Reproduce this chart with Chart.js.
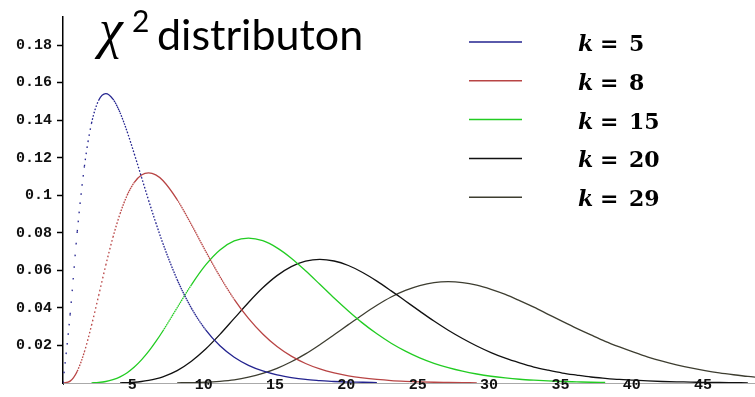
<!DOCTYPE html>
<html>
<head>
<meta charset="utf-8">
<script src="https://cdn.jsdelivr.net/npm/chart.js@4/dist/chart.umd.min.js"></script>
<style>
  html, body { margin: 0; padding: 0; background: #fff; }
</style>
</head>
<body>
<canvas id="grafica" width="755" height="397"></canvas>
<script>
var colorEjeY = "#000";
var colorEjeX = "#aaa";

// valores de x (grados de libertad k en cada serie)
var xs = [0, 0.5, 1, 1.5, 2, 2.5, 3, 3.5, 4, 4.5, 5, 5.5, 6, 6.5, 7,
  8, 9, 10, 11, 12, 13, 14, 15, 16, 17, 18, 19, 20, 21, 22, 23, 24, 25, 26, 27, 28,
  29, 30, 31, 32, 33, 34, 35, 36, 37, 38, 39, 40, 41, 42, 43, 44, 45, 46, 47, 48, 49];

var ks = [5, 8, 15, 20, 29];
var colores = ["#23238f", "#b84444", "#22cc22", "#111111", "#3d3d30"];

var k5 = [0, 0.0366, 0.0807, 0.1154, 0.1384, 0.1506, 0.1542, 0.1513, 0.1440, 0.1338, 0.1220, 0.1097, 0.0973, 0.0855, 0.0744,
  0.0551, 0.0399, 0.0283, 0.0198, 0.0137, 0.0094, 0.0064, 0.0043, 0.0029, 0.0019, 0.0013, 0.0008, 0.0005, 0.0004, 0.0002];

var k8 = [0, 0.0010, 0.0063, 0.0166, 0.0307, 0.0466, 0.0628, 0.0776, 0.0902, 0.1001, 0.1069, 0.1108, 0.1120, 0.1109, 0.1079,
  0.0977, 0.0844, 0.0702, 0.0567, 0.0446, 0.0344, 0.0261, 0.0194, 0.0143, 0.0104, 0.0075, 0.0054, 0.0038, 0.0027, 0.0019,
  0.0013, 0.0009, 0.0006, 0.0004, 0.0003, 0.0002, 0.0001];

var k15 = [null, null, null, null, 0.0001, 0.0003, 0.0008, 0.0018, 0.0033, 0.0055, 0.0085, 0.0123, 0.0168, 0.0220, 0.0277,
  0.0401, 0.0523, 0.0629, 0.0709, 0.0757, 0.0772, 0.0758, 0.0720, 0.0665, 0.0598, 0.0526, 0.0453, 0.0384, 0.0319, 0.0262,
  0.0212, 0.0170, 0.0134, 0.0105, 0.0082, 0.0063, 0.0048, 0.0036, 0.0027, 0.0020, 0.0015, 0.0011, 0.0008, 0.0006, 0.0004, 0.0003];

var k20 = [null, null, null, null, null, null, null, null, 0.0001, 0.0002, 0.0004, 0.0008, 0.0014, 0.0022, 0.0033,
  0.0066, 0.0116, 0.0181, 0.0259, 0.0344, 0.0429, 0.0507, 0.0572, 0.0620, 0.0649, 0.0659, 0.0650, 0.0626, 0.0589, 0.0543,
  0.0491, 0.0437, 0.0383, 0.0330, 0.0281, 0.0237, 0.0197, 0.0162, 0.0132, 0.0107, 0.0085, 0.0068, 0.0053, 0.0042, 0.0032,
  0.0025, 0.0019, 0.0015, 0.0011, 0.0008, 0.0006, 0.0005, 0.0003, 0.0003, 0.0002, 0.0001];

var k29 = [null, null, null, null, null, null, null, null, null, null, null, null, null, null, null,
  0.0001, 0.0002, 0.0004, 0.0009, 0.0017, 0.0031, 0.0051, 0.0078, 0.0113, 0.0155, 0.0204, 0.0257, 0.0311, 0.0364, 0.0414,
  0.0458, 0.0493, 0.0519, 0.0535, 0.0540, 0.0535, 0.0521, 0.0499, 0.0472, 0.0439, 0.0404, 0.0366, 0.0328, 0.0291, 0.0256,
  0.0222, 0.0192, 0.0164, 0.0138, 0.0116, 0.0097, 0.0080, 0.0066, 0.0054, 0.0044, 0.0035, 0.0028];

var series = [k5, k8, k15, k20, k29];
var etiquetasX = [5, 10, 15, 20, 25, 30, 35, 40, 45];

// en los tramos muy empinados la curva se ve punteada
function trazoPunteado(ctx) {
  var dx = Math.abs(ctx.p1.x - ctx.p0.x) || 1;
  var s = Math.abs(ctx.p1.y - ctx.p0.y) / dx;
  if (s < 1.5) return undefined;
  return [1.6, Math.max(0.6, Math.sqrt(1 + s * s) - 1.6)];
}

var datasets = series.map(function (s, i) {
  return {
    label: "k = " + ks[i],
    data: s.map(function (v, j) { return { x: xs[j], y: v }; }),
    borderColor: colores[i],
    backgroundColor: colores[i],
    borderWidth: 1.3,
    pointRadius: 0,
    fill: false,
    cubicInterpolationMode: "monotone",
    segment: { borderDash: trazoPunteado }
  };
});

var textos = {
  id: "textos",
  afterDraw: function (chart) {
    var ctx = chart.ctx;
    ctx.save();
    ctx.fillStyle = "#000";
    ctx.textBaseline = "alphabetic";
    // titulo
    ctx.font = "italic 54px 'Liberation Serif'";
    ctx.fillText("\u03c7", 99, 47);
    ctx.font = "30px 'Lato'";
    ctx.fillText("2", 132, 32);
    ctx.font = "43px 'Lato'";
    ctx.fillText("distributon", 157, 50);

    // leyenda
    chart.data.datasets.forEach(function (d, i) {
      var y = 42 + i * 38.8;
      ctx.strokeStyle = d.borderColor;
      ctx.lineWidth = 1.5;
      ctx.beginPath();
      ctx.moveTo(469, y);
      ctx.lineTo(522, y);
      ctx.stroke();
      ctx.fillStyle = "#000";
      ctx.font = "italic bold 22px 'DejaVu Serif'";
      ctx.fillText("k", 578, y + 9);
      ctx.font = "bold 22px 'DejaVu Serif'";
      ctx.fillText("=", 600, y + 9);
      ctx.fillText(String(ks[i]), 629, y + 9);
    });

    // etiquetas del eje x por encima del eje
    var sx = chart.scales.x;
    ctx.font = "bold 15px 'Liberation Mono'";
    ctx.textAlign = "center";
    ctx.textBaseline = "middle";
    ctx.fillStyle = "#111";
    etiquetasX.forEach(function (v) {
      ctx.fillText(String(v), sx.getPixelForValue(v) - 2, 385);
    });
    ctx.restore();
  }
};

var configuracion = {
  type: "line",
  data: { datasets: datasets },
  options: {
    responsive: false,
    animation: false,
    layout: { padding: { top: 17, right: 0, left: 0, bottom: 0 } },
    plugins: { legend: { display: false }, tooltip: { enabled: false } },
    scales: {
      x: {
        type: "linear",
        min: 0,
        max: 48.5,
        afterFit: function (scale) { scale.height = 2; },
        border: { color: colorEjeX, width: 1 },
        grid: { drawOnChartArea: false, tickLength: 2, color: "#333", tickWidth: 1 },
        ticks: { display: false, stepSize: 5 }
      },
      y: {
        min: 0,
        max: 0.195,
        afterFit: function (scale) { scale.width = 63; },
        afterBuildTicks: function (scale) {
          scale.ticks = scale.ticks.filter(function (t) {
            var r = Math.round(t.value * 100) / 100;
            return t.value > 0.001 && Math.abs(t.value - r) < 1e-6 && Math.round(r * 100) % 2 === 0;
          });
        },
        border: { color: colorEjeY, width: 1.5 },
        grid: { drawOnChartArea: false, tickLength: 6, color: colorEjeY, tickWidth: 1.5 },
        ticks: {
          stepSize: 0.02,
          padding: 5,
          color: "#111",
          font: { family: "Liberation Mono", weight: "bold", size: 15 },
          callback: function (v) { return String(parseFloat(v.toFixed(2))); }
        }
      }
    }
  },
  plugins: [textos]
};

var grafica = new Chart(document.getElementById("grafica"), configuracion);
</script>
</body>
</html>
